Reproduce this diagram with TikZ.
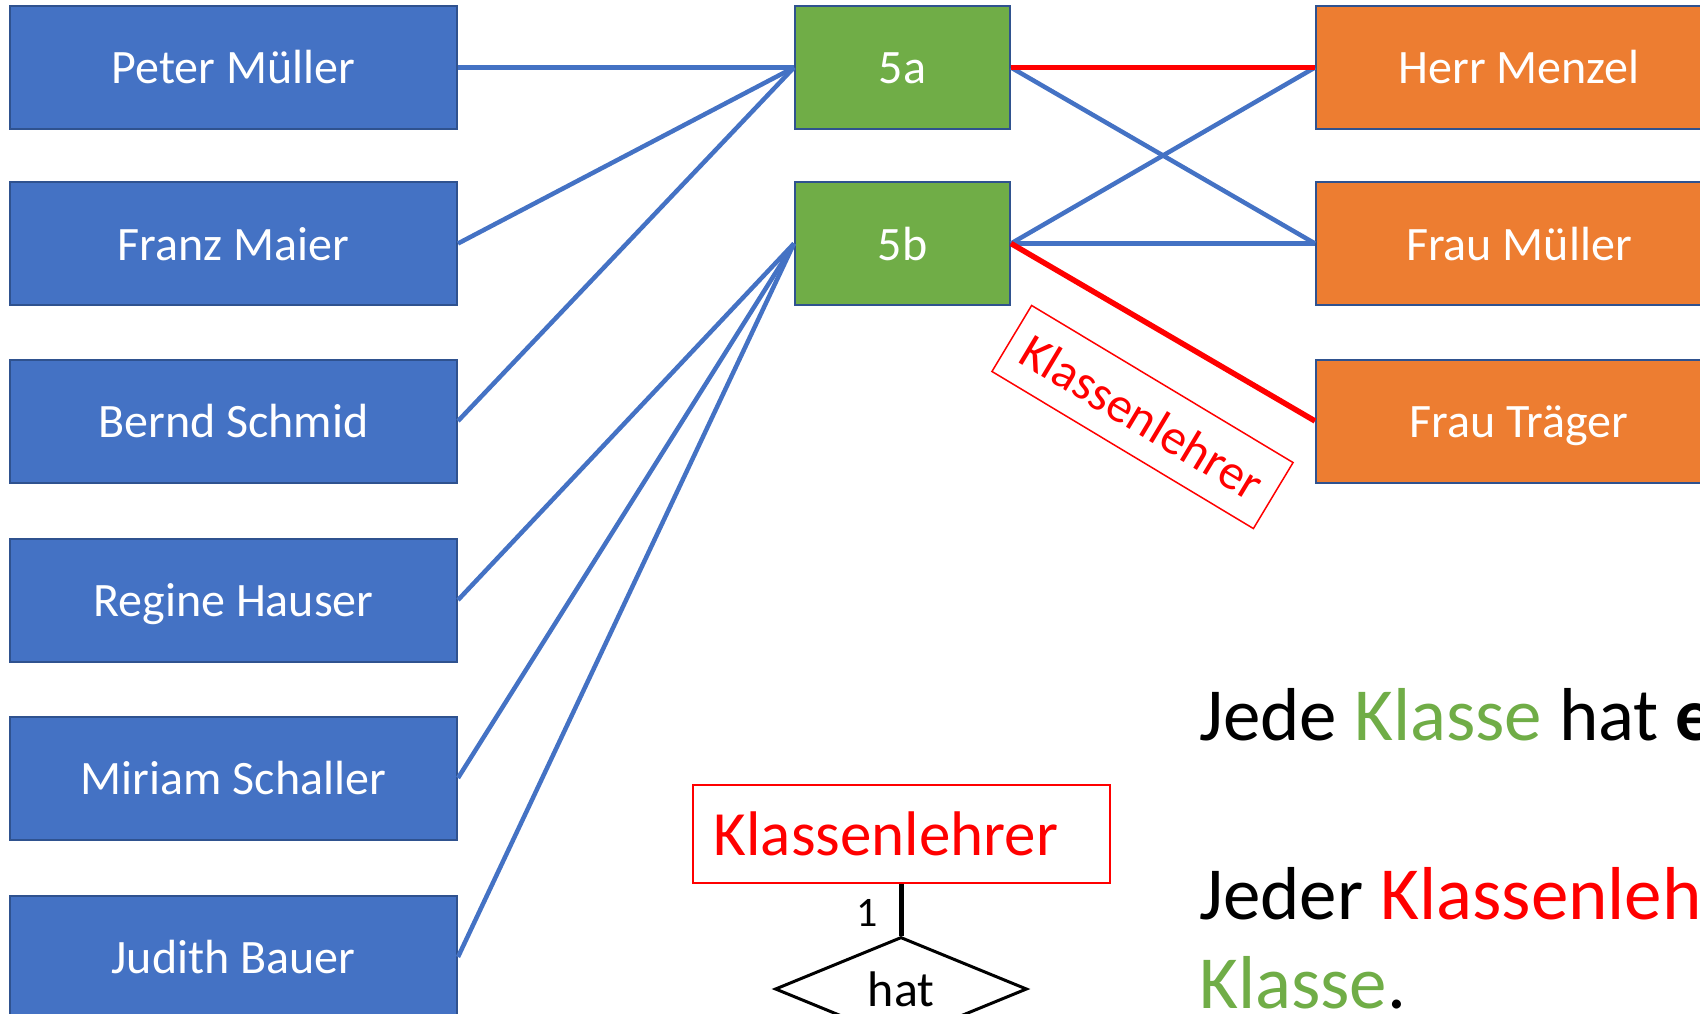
\documentclass[tikz,border=0pt]{standalone}
\usepackage{fontspec}
\setmainfont{Carlito}
\usetikzlibrary{shapes.geometric}
\definecolor{boxblue}{HTML}{4472C4}
\definecolor{boxgreen}{HTML}{70AD47}
\definecolor{boxorange}{HTML}{ED7D31}
\definecolor{edgeblue}{HTML}{2F528F}
\definecolor{linkblue}{HTML}{4472C4}
\definecolor{pptred}{HTML}{FF0000}
\begin{document}
\begin{tikzpicture}[x=1pt,y=-1pt,
  ent/.style={draw=edgeblue, line width=2pt, text=white, minimum height=123pt, inner sep=0pt,
              text height=40pt, text depth=7pt, font=\fontsize{48}{57}\selectfont},
  student/.style={ent, fill=boxblue, minimum width=447pt},
  klasse/.style={ent, fill=boxgreen, minimum width=215pt},
  lehrer/.style={ent, fill=boxorange, minimum width=406pt},
  blink/.style={draw=linkblue, line width=4.5pt},
  rlink/.style={draw=pptred, line width=5.5pt},
  rolebox/.style={draw=pptred, line width=1.5pt, text=pptred, inner sep=0pt},
  txt/.style={inner sep=0pt, anchor=base west, font=\fontsize{75}{90}\selectfont},
]
\path[use as bounding box, clip] (0,0) rectangle (1700,1014);

% students
\node[student] (p) at (233.5,67.5) {Peter Müller};
\node[student] (f) at (233.5,243.5) {Franz Maier};
\node[student] (b) at (233.5,421) {Bernd Schmid};
\node[student] (r) at (233.5,600) {Regine Hauser};
\node[student] (m) at (233.5,778) {Miriam Schaller};
\node[student] (j) at (233.5,957) {Judith Bauer};

% classes
\node[klasse] (ka) at (902.5,67.5) {5a};
\node[klasse] (kb) at (902.5,243.5) {5b};

% teachers
\node[lehrer] (hm) at (1519,67.5) {Herr Menzel};
\node[lehrer] (fm) at (1519,243.5) {Frau Müller};
\node[lehrer] (ft) at (1519,421) {Frau Träger};

% connectors
\draw[blink] (p.east) -- (ka.west);
\draw[blink] (f.east) -- (ka.west);
\draw[blink] (b.east) -- (ka.west);
\draw[blink] (r.east) -- (kb.west);
\draw[blink] (m.east) -- (kb.west);
\draw[blink] (j.east) -- (kb.west);
\draw[blink] (ka.east) -- (fm.west);
\draw[blink] (kb.east) -- (hm.west);
\draw[blink] (kb.east) -- (fm.west);
\draw[rlink] (ka.east) -- (hm.west);
\draw[rlink] (kb.east) -- (ft.west);

% rotated label
\node[rolebox, rotate=-31, minimum width=305pt, minimum height=77pt,
      font=\fontsize{50}{60}\selectfont] (lbl) at (1142.5,417) {Klassenlehrer};

% ER fragment
\node[rolebox, anchor=west, minimum height=98pt, inner xsep=21pt,
      text width=375pt, align=left, font=\fontsize{63}{75}\selectfont] (er) at (692,834) {Klassenlehrer};
\node[draw=black, line width=3pt, shape=diamond, minimum width=252pt, minimum height=104pt,
      inner sep=0pt, font=\fontsize{50}{60}\selectfont] (hat) at (901,989) {hat};
\draw[black, line width=5pt] (er.south -| hat.north) -- (hat.north);
\node[inner sep=0pt, font=\fontsize{42}{50}\selectfont] (one) at (867,913) {1};

% text
\node[txt] (t1) at (1199,740) {Jede \textcolor{boxgreen}{Klasse} hat \textbf{e}};
\node[txt] (t2) at (1199,919) {Jeder \textcolor{pptred}{Klassenleh}};
\node[txt] (t3) at (1199,1008) {\textcolor{boxgreen}{Klasse}.};
\end{tikzpicture}
\end{document}
